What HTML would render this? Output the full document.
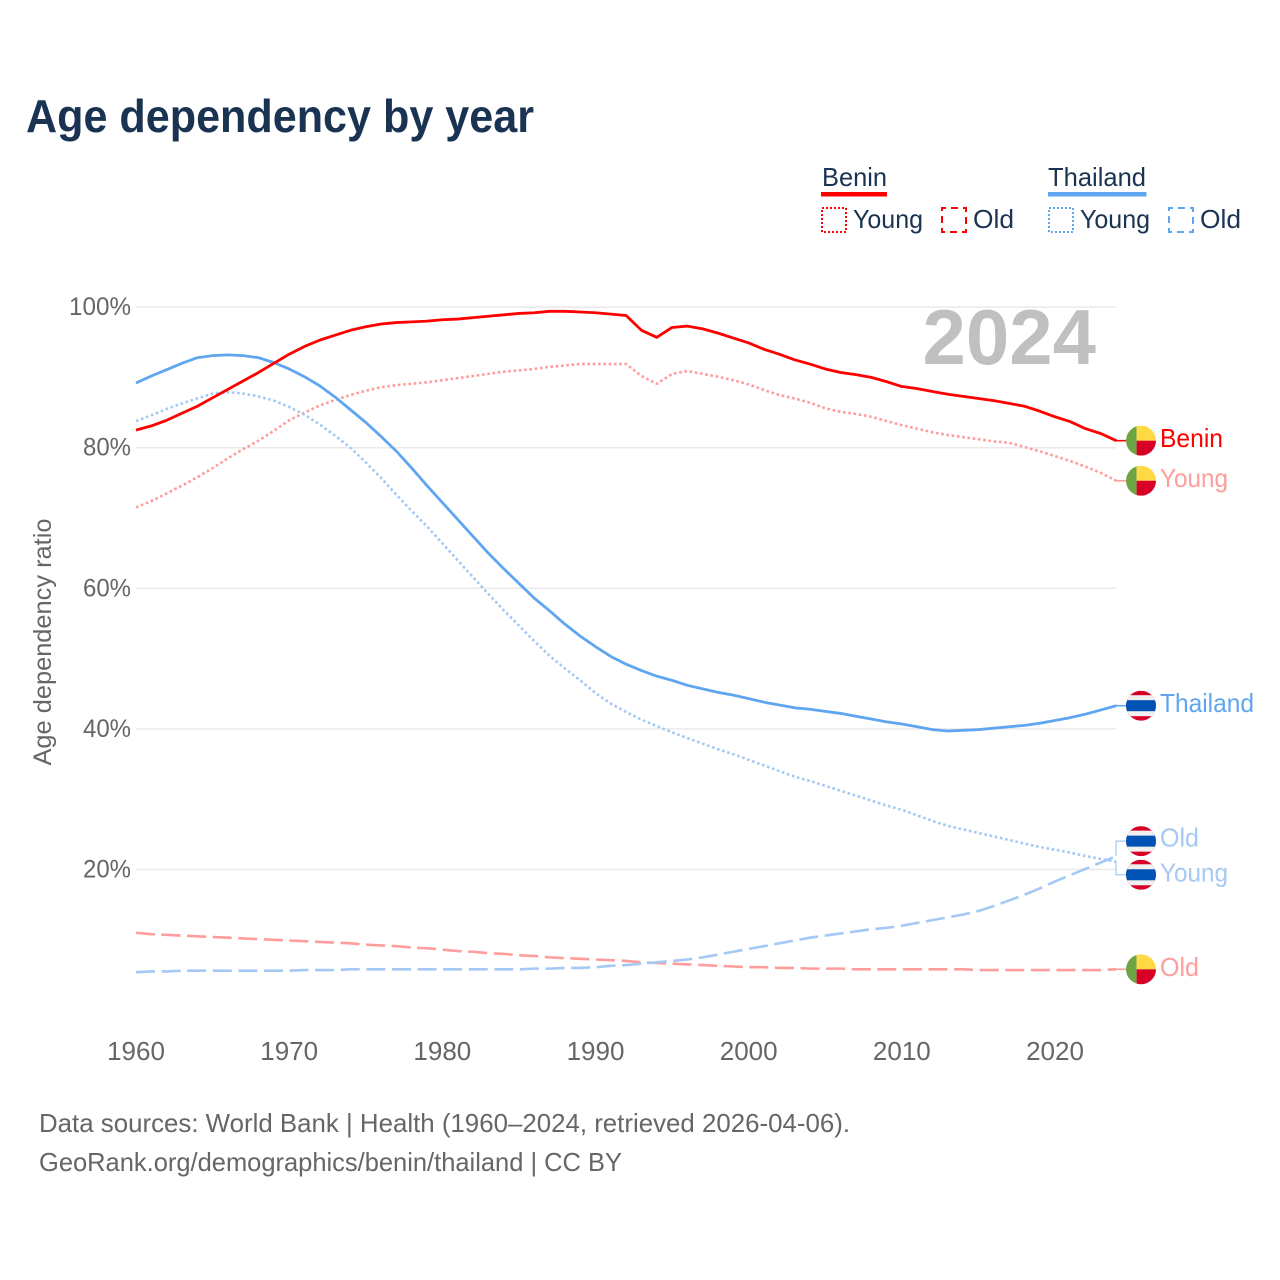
<!DOCTYPE html>
<html lang="en">
<head>
<meta charset="utf-8">
<title>Age dependency by year</title>
<style>
html,body{margin:0;padding:0;background:#fff;}
svg{display:block;}
text{font-family:"Liberation Sans",sans-serif;}
</style>
</head>
<body>
<svg id="chart" xmlns="http://www.w3.org/2000/svg" width="1280" height="1280" viewBox="0 0 1280 1280">
  <defs>
    <clipPath id="flag-clip"><circle cx="0" cy="0" r="15"></circle></clipPath>
  </defs>
  <rect x="0" y="0" width="1280" height="1280" fill="#ffffff"></rect>
  <text x="26" y="132" font-size="46" font-weight="700" fill="#1a3352" textLength="508" lengthAdjust="spacingAndGlyphs">Age dependency by year</text>

  <g font-size="26" fill="#1a3352">
    <text x="822" y="186" textLength="65" lengthAdjust="spacingAndGlyphs">Benin</text>
    <rect x="821" y="192" width="66" height="4.5" fill="#ff0000"></rect>
    <rect x="822" y="208" width="24" height="24" fill="none" stroke="#ff0000" stroke-width="2" stroke-dasharray="2 2"></rect>
    <text x="853" y="228" textLength="70" lengthAdjust="spacingAndGlyphs">Young</text>
    <rect x="942" y="208" width="24" height="24" fill="none" stroke="#ff0000" stroke-width="2" stroke-dasharray="7 5" stroke-dashoffset="3"></rect>
    <text x="973" y="228" textLength="41" lengthAdjust="spacingAndGlyphs">Old</text>
    <text x="1048" y="186" textLength="98" lengthAdjust="spacingAndGlyphs">Thailand</text>
    <rect x="1048" y="192" width="98.5" height="4.5" fill="#60a5ef"></rect>
    <rect x="1049" y="208" width="24" height="24" fill="none" stroke="#60a5ef" stroke-width="2" stroke-dasharray="2 2"></rect>
    <text x="1080" y="228" textLength="70" lengthAdjust="spacingAndGlyphs">Young</text>
    <rect x="1169" y="208" width="24" height="24" fill="none" stroke="#60a5ef" stroke-width="2" stroke-dasharray="7 5" stroke-dashoffset="3"></rect>
    <text x="1200" y="228" textLength="41" lengthAdjust="spacingAndGlyphs">Old</text>
  </g>

  <g id="grid"></g>
  <text x="1096" y="364" text-anchor="end" font-size="78" font-weight="700" fill="#c0c0c0">2024</text>
  <g id="y-axis"></g>
  <g id="x-axis"></g>
  <text transform="translate(51,642) rotate(-90)" text-anchor="middle" font-size="25" fill="#666666" textLength="247" lengthAdjust="spacingAndGlyphs">Age dependency ratio</text>
  <g id="series"></g>
  <g id="end-labels"></g>

  <g font-size="26" fill="#666666">
    <text x="39" y="1132" textLength="811" lengthAdjust="spacingAndGlyphs">Data sources: World Bank | Health (1960–2024, retrieved 2026-04-06).</text>
    <text x="39" y="1171" textLength="583" lengthAdjust="spacingAndGlyphs">GeoRank.org/demographics/benin/thailand | CC BY</text>
  </g>
</svg>
<script>
const firstYear = 1960;
const xTicks = [1960, 1970, 1980, 1990, 2000, 2010, 2020];
const yTicks = [20, 40, 60, 80, 100];
const yTickLabels = ["20%", "40%", "60%", "80%", "100%"];

const beninTotal = [82.5,83.1,83.9,84.9,85.9,87.1,88.3,89.5,90.7,92.0,93.3,94.4,95.3,96.0,96.7,97.2,97.6,97.8,97.9,98.0,98.2,98.3,98.5,98.7,98.9,99.1,99.2,99.4,99.4,99.3,99.2,99.0,98.8,96.7,95.7,97.1,97.3,96.9,96.3,95.6,94.9,94.0,93.3,92.5,91.9,91.2,90.7,90.4,90.0,89.4,88.7,88.4,88.0,87.6,87.3,87.0,86.7,86.3,85.9,85.2,84.4,83.7,82.7,82.0,81.0];
const beninYoung = [71.5,72.4,73.5,74.6,75.8,77.1,78.5,79.8,81.0,82.4,83.9,85.0,86.0,86.8,87.5,88.1,88.6,88.9,89.1,89.3,89.6,89.9,90.2,90.5,90.8,91.0,91.2,91.5,91.7,91.9,91.9,91.9,91.9,90.2,89.1,90.5,90.9,90.5,90.1,89.6,89.0,88.2,87.5,87.0,86.4,85.6,85.1,84.8,84.4,83.8,83.2,82.7,82.2,81.8,81.5,81.2,80.9,80.7,80.1,79.5,78.8,78.1,77.3,76.4,75.3];
const beninOld = [11.0,10.8,10.7,10.6,10.5,10.4,10.3,10.2,10.1,10.0,9.9,9.8,9.7,9.6,9.5,9.3,9.2,9.1,8.9,8.8,8.6,8.4,8.3,8.1,8.0,7.8,7.7,7.5,7.4,7.3,7.2,7.1,7.0,6.8,6.7,6.6,6.5,6.4,6.3,6.2,6.1,6.1,6.0,6.0,5.9,5.9,5.9,5.8,5.8,5.8,5.8,5.8,5.8,5.8,5.8,5.7,5.7,5.7,5.7,5.7,5.7,5.7,5.7,5.7,5.8];
const thailandTotal = [89.2,90.2,91.1,92.0,92.8,93.1,93.2,93.1,92.8,92.1,91.2,90.1,88.8,87.2,85.4,83.6,81.6,79.5,77.1,74.6,72.2,69.8,67.4,65.0,62.8,60.7,58.6,56.8,54.9,53.2,51.7,50.3,49.2,48.3,47.5,46.9,46.2,45.7,45.2,44.8,44.3,43.8,43.4,43.0,42.8,42.5,42.2,41.8,41.4,41.0,40.7,40.3,39.9,39.7,39.8,39.9,40.1,40.3,40.5,40.8,41.2,41.6,42.1,42.7,43.3];
const thailandYoung = [83.8,84.6,85.5,86.3,87.0,87.7,87.9,87.7,87.3,86.7,85.8,84.7,83.3,81.7,80.0,77.9,75.7,73.3,71.0,68.8,66.4,64.0,61.6,59.2,56.9,54.7,52.5,50.4,48.6,46.9,45.1,43.6,42.4,41.3,40.4,39.5,38.7,37.9,37.1,36.4,35.6,34.8,34.0,33.2,32.6,31.9,31.2,30.5,29.8,29.1,28.5,27.7,26.9,26.2,25.7,25.2,24.7,24.2,23.7,23.2,22.8,22.4,21.9,21.5,21.1];
const thailandOld = [5.4,5.5,5.5,5.6,5.6,5.6,5.6,5.6,5.6,5.6,5.6,5.7,5.7,5.7,5.8,5.8,5.8,5.8,5.8,5.8,5.8,5.8,5.8,5.8,5.8,5.8,5.9,5.9,6.0,6.0,6.1,6.3,6.4,6.6,6.8,7.0,7.2,7.5,7.9,8.3,8.7,9.1,9.5,9.9,10.3,10.6,10.9,11.2,11.5,11.7,12.0,12.4,12.8,13.2,13.6,14.1,14.8,15.6,16.4,17.3,18.3,19.2,20.1,21.0,21.9];

const SVGNS = "http://www.w3.org/2000/svg";
function xScale(year) { return 136 + (year - 1960) * 15.317; }
function yScale(v) { return 869.5 - (v - 20) * 7.03; }
function mk(tag, attrs, parent) {
  const el = document.createElementNS(SVGNS, tag);
  Object.keys(attrs).forEach(function (k) { el.setAttribute(k, attrs[k]); });
  parent.appendChild(el);
  return el;
}
const gridG = document.getElementById("grid");
const yAxisG = document.getElementById("y-axis");
const xAxisG = document.getElementById("x-axis");
const seriesG = document.getElementById("series");
const labelsG = document.getElementById("end-labels");

yTicks.forEach(function (t, i) {
  const line = mk("line", {x1: 136, x2: 1116, y1: yScale(t), y2: yScale(t), stroke: "#e9e9e9", "stroke-width": 1.5}, gridG);
  
  
  const label = mk("text", {x: 131, y: yScale(t) + 8, "text-anchor": "end", "font-size": 25, fill: "#666666", textLength: yTickLabels[i].length === 4 ? 62 : 48, lengthAdjust: "spacingAndGlyphs"}, yAxisG);
  
  
  label.textContent = yTickLabels[i];
});

xTicks.forEach(function (t) {
  const label = mk("text", {x: xScale(t), y: 1060, "text-anchor": "middle", "font-size": 26, fill: "#666666"}, xAxisG);
  
  
  label.textContent = String(t);
});

function drawLine(values, name, color, width, dash) {
  const d = values.map(function (v, i) {
    return (i ? "L" : "M") + xScale(firstYear + i).toFixed(2) + " " + yScale(v).toFixed(2);
  }).join(" ");
  const attrs = {d: d, fill: "none", stroke: color, "stroke-width": width, "stroke-linejoin": "round"};
  if (dash) { attrs["stroke-dasharray"] = dash; }
  const path = mk("path", attrs, seriesG);
  
  
}
const RED = "#ff0000", BLUE = "#60a5ef", PINK = "#ff9c9c", SKY = "#a3c9f4";
drawLine(beninOld, "benin-old-line", PINK, 2.6, "19 6.6");
drawLine(thailandOld, "thailand-old-line", SKY, 2.6, "19 6.6");
drawLine(beninYoung, "benin-young-line", PINK, 2.6, "2.6 2.7");
drawLine(thailandYoung, "thailand-young-line", SKY, 2.6, "2.6 2.7");
drawLine(thailandTotal, "thailand-total-line", BLUE, 2.8, null);
drawLine(beninTotal, "benin-total-line", RED, 2.8, null);

function drawFlag(country, cy) {
  const g = mk("g", {transform: "translate(1141," + cy + ")", "clip-path": "url(#flag-clip)"}, labelsG);
  
  
  if (country === "benin") {
    mk("rect", {x: -15, y: -15, width: 10.6, height: 30, fill: "#6da544"}, g);
    mk("rect", {x: -4.4, y: -15, width: 19.4, height: 15, fill: "#ffda44"}, g);
    mk("rect", {x: -4.4, y: 0, width: 19.4, height: 15, fill: "#d80027"}, g);
  } else {
    mk("rect", {x: -15, y: -15, width: 30, height: 30, fill: "#d80027"}, g);
    mk("rect", {x: -15, y: -10.5, width: 30, height: 21, fill: "#f0f0f0"}, g);
    mk("rect", {x: -15, y: -5.5, width: 30, height: 11, fill: "#0052b4"}, g);
  }
}
function drawEndLabel(values, country, text, color, dodge, textShift) {
  const lineY = yScale(values[values.length - 1]);
  const cy = lineY + dodge;
  const leader = mk("path", {
    d: dodge ? "M1116 " + lineY + " V" + cy + " H1126" : "M1116 " + lineY + " H1126",
    fill: "none", stroke: color, "stroke-width": dodge ? 1.2 : 1.6
  }, labelsG);
  
  
  drawFlag(country, cy);
  const label = mk("text", {x: 1160, y: cy + 6.5 + textShift, "font-size": 26, fill: color, textLength: {Benin: 63, Young: 68, Thailand: 94, Old: 39}[text], lengthAdjust: "spacingAndGlyphs"}, labelsG);
  
  
  label.textContent = text;
}
drawEndLabel(beninTotal, "benin", "Benin", RED, 0, 0);
drawEndLabel(beninYoung, "benin", "Young", PINK, 0, 0);
drawEndLabel(thailandTotal, "thailand", "Thailand", BLUE, 0, 0);
drawEndLabel(thailandOld, "thailand", "Old", SKY, -15, -1);
drawEndLabel(thailandYoung, "thailand", "Young", SKY, 13, 0);
drawEndLabel(beninOld, "benin", "Old", PINK, 0, 0);
</script>
</body>
</html>
